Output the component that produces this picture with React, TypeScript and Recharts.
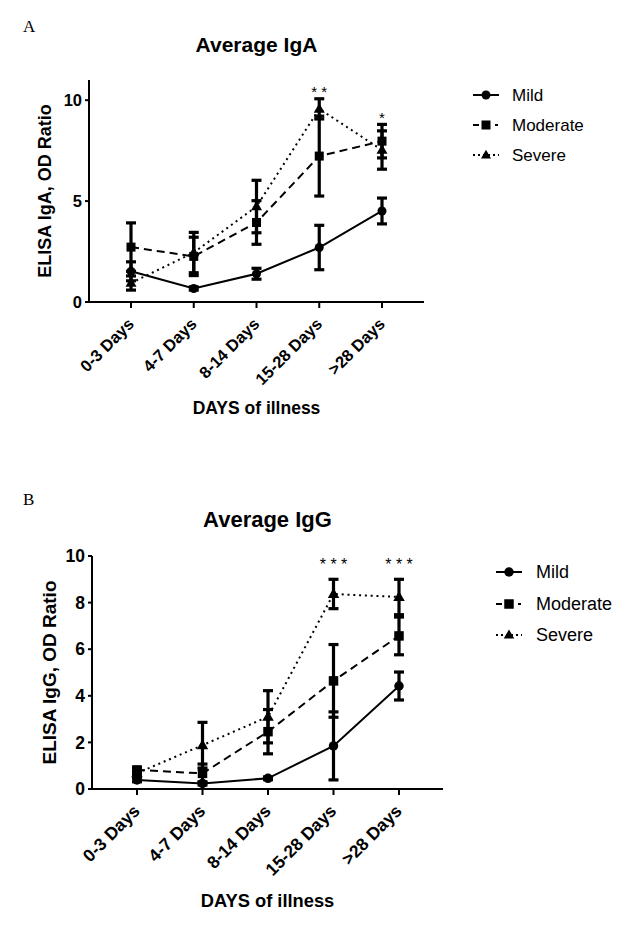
import React from 'react';
import { LineChart, Line, XAxis, YAxis, ErrorBar, Legend, LabelList } from 'recharts';

const categories = ['0-3 Days', '4-7 Days', '8-14 Days', '15-28 Days', '>28 Days'];

// Average IgA (panel A)
const igaMild = [1.52, 0.67, 1.4, 2.7, 4.51];
const igaMildErr = [0.47, 0.08, 0.27, 1.1, 0.64];
const igaModerate = [2.72, 2.26, 3.94, 7.23, 7.97];
const igaModerateErr = [1.2, 0.95, 1.08, 1.98, 0.83];
const igaSevere = [0.94, 2.45, 4.73, 9.57, 7.53];
const igaSevereErr = [0.35, 1.0, 1.3, 0.5, 0.95];
const igaSignificance = ['', '', '', '**', '*'];
const igaTicks = [0, 5, 10];

// Average IgG (panel B)
const iggMild = [0.39, 0.24, 0.46, 1.85, 4.42];
const iggMildErr = [0.08, 0.07, 0.06, 1.46, 0.6];
const iggModerate = [0.82, 0.67, 2.46, 4.64, 6.57];
const iggModerateErr = [0.1, 0.4, 0.95, 1.56, 0.81];
const iggSevere = [0.68, 1.88, 3.1, 8.37, 8.24];
const iggSevereErr = [0.08, 0.98, 1.12, 0.63, 0.76];
const iggSignificance = ['', '', '', '***', '***'];
const iggTicks = [0, 2, 4, 6, 8, 10];

const FONT = '"Liberation Sans", Arial, Helvetica, sans-serif';
const SERIF = '"Liberation Serif", "Times New Roman", serif';

type SeriesStyle = { dash?: string; legendDash?: string; marker: 'circle' | 'square' | 'triangle' };
const seriesStyles: Record<string, SeriesStyle> = {
  Mild: { dash: undefined, legendDash: undefined, marker: 'circle' },
  Moderate: { dash: '8 5', legendDash: '6 16 3 10', marker: 'square' },
  Severe: { dash: '2 3.8', legendDash: '2 3', marker: 'triangle' },
};

function buildRows(
  mild: number[], mildErr: number[], mod: number[], modErr: number[],
  sev: number[], sevErr: number[], sig: string[]
) {
  return categories.map((day, i) => ({
    day,
    Mild: mild[i],
    mildErr: mildErr[i],
    Moderate: mod[i],
    moderateErr: modErr[i],
    Severe: sev[i],
    severeErr: sevErr[i],
    sig: sig[i],
    sigTop: sig[i]
      ? Math.max(mild[i] + mildErr[i], mod[i] + modErr[i], sev[i] + sevErr[i])
      : null,
  }));
}

function drawMarker(kind: string, cx: number, cy: number, size: number, key?: any) {
  const h = size / 2;
  if (kind === 'circle') return <circle key={key} cx={cx} cy={cy} r={h} fill="#000" />;
  if (kind === 'square')
    return <rect key={key} x={cx - h} y={cy - h} width={size} height={size} fill="#000" />;
  const th = size * 0.95;
  return (
    <polygon
      key={key}
      points={`${cx},${cy - th * 0.6} ${cx + h + 0.5},${cy + th * 0.4} ${cx - h - 0.5},${cy + th * 0.4}`}
      fill="#000"
    />
  );
}

const makeDot = (kind: string, size: number) => (props: any) => {
  const { cx, cy, index } = props;
  if (cx == null || cy == null) return <g key={`e-${index}`} />;
  return drawMarker(kind, cx, cy, size, `d-${index}`);
};

type PanelCfg = {
  letter: string;
  title: string;
  yLabel: string;
  rows: any[];
  domain: [number, number];
  ticks: number[];
  height: number;
  top: number;
  margin: { top: number; right: number; bottom: number; left: number };
  padLeft: number;
  padRight: number;
  letterY: number;
  titleY: number;
  titleSize: number;
  yLabelX: number;
  yLabelSize: number;
  xLabelDy: number;
  xLabelSize: number;
  tickFont: number;
  markerSize: number;
  starSize: number;
  starOffset: number;
  legendLeft: number;
  legendTop: number;
  legendRowH: number;
  legendFont: number;
  legendGap: number;
};

const XTick = (fontSize: number) => (props: any) => {
  const { x, y, payload } = props;
  return (
    <g transform={`translate(${x + 4},${y + 15})`}>
      <text
        textAnchor="end"
        transform="rotate(-45)"
        fontSize={fontSize}
        fontWeight="bold"
        fontFamily={FONT}
        fill="#000"
      >
        {payload.value}
      </text>
    </g>
  );
};

const renderLegend = (cfg: PanelCfg) => (props: any) => {
  const items = (props.payload || []).filter((p: any) => p.type !== 'none' && seriesStyles[p.value]);
  return (
    <div style={{ margin: 0, padding: 0 }}>
      {items.map((item: any) => {
        const st = seriesStyles[item.value];
        return (
          <div
            key={item.value}
            style={{ display: 'flex', alignItems: 'center', height: cfg.legendRowH }}
          >
            <svg width={26} height={14} style={{ display: 'block' }}>
              <line
                x1={0}
                y1={7}
                x2={26}
                y2={7}
                stroke="#000"
                strokeWidth={2}
                strokeDasharray={st.legendDash}
              />
              {drawMarker(st.marker, 13, 7, cfg.markerSize)}
            </svg>
            <span
              style={{
                marginLeft: cfg.legendGap,
                fontSize: cfg.legendFont,
                fontFamily: FONT,
                color: '#000',
                lineHeight: 1,
              }}
            >
              {item.value}
            </span>
          </div>
        );
      })}
    </div>
  );
};

function Panel({ cfg }: { cfg: PanelCfg }) {
  const yAxisWidth = 40;
  const xAxisHeight = 100;
  const plotLeft = cfg.margin.left + yAxisWidth;
  const plotRight = 630 - cfg.margin.right;
  const plotCenter = (plotLeft + plotRight) / 2;
  return (
    <div style={{ position: 'absolute', left: 0, top: cfg.top, width: 630, height: cfg.height }}>
      <LineChart
        width={630}
        height={cfg.height}
        data={cfg.rows}
        margin={cfg.margin}
      >
        <text x={23} y={cfg.letterY} fontFamily={SERIF} fontSize={17} fill="#000">
          {cfg.letter}
        </text>
        <text
          x={plotCenter}
          y={cfg.titleY}
          textAnchor="middle"
          dominantBaseline="central"
          fontFamily={FONT}
          fontWeight="bold"
          fontSize={cfg.titleSize}
          fill="#000"
        >
          {cfg.title}
        </text>
        <XAxis
          dataKey="day"
          type="category"
          height={xAxisHeight}
          interval={0}
          padding={{ left: cfg.padLeft, right: cfg.padRight }}
          axisLine={{ stroke: '#000', strokeWidth: 2 }}
          tickLine={{ stroke: '#000', strokeWidth: 2 }}
          tickSize={6}
          tickMargin={2}
          tick={XTick(cfg.tickFont)}
          label={{
            content: (p: any) => {
              const vb = p.viewBox || {};
              return (
                <text
                  x={vb.x + vb.width / 2}
                  y={vb.y + cfg.xLabelDy}
                  textAnchor="middle"
                  dominantBaseline="central"
                  fontFamily={FONT}
                  fontWeight="bold"
                  fontSize={cfg.xLabelSize}
                  fill="#000"
                >
                  DAYS of illness
                </text>
              );
            },
          }}
        />
        <YAxis
          width={yAxisWidth}
          type="number"
          domain={cfg.domain}
          ticks={cfg.ticks}
          allowDataOverflow
          axisLine={{ stroke: '#000', strokeWidth: 2 }}
          tickLine={{ stroke: '#000', strokeWidth: 2 }}
          tickSize={4}
          tickMargin={3}
          tick={{ fontSize: cfg.tickFont, fontWeight: 'bold', fill: '#000', fontFamily: FONT }}
          label={{
            content: (p: any) => {
              const vb = p.viewBox || {};
              const cy = vb.y + vb.height / 2;
              return (
                <text
                  x={cfg.yLabelX}
                  y={cy}
                  transform={`rotate(-90, ${cfg.yLabelX}, ${cy})`}
                  textAnchor="middle"
                  dominantBaseline="central"
                  fontFamily={FONT}
                  fontWeight="bold"
                  fontSize={cfg.yLabelSize}
                  fill="#000"
                >
                  {cfg.yLabel}
                </text>
              );
            },
          }}
        />
        <Legend
          layout="horizontal"
          verticalAlign="middle"
          align="center"
          content={renderLegend(cfg)}
          wrapperStyle={{ left: cfg.legendLeft, top: cfg.legendTop, width: 150, height: 'auto' }}
        />
        <Line
          dataKey="Mild"
          name="Mild"
          stroke="#000"
          strokeWidth={2}
          dot={makeDot('circle', cfg.markerSize)}
          activeDot={false}
          isAnimationActive={false}
        >
          <ErrorBar dataKey="mildErr" direction="y" width={5} strokeWidth={3.2} stroke="#000" />
        </Line>
        <Line
          dataKey="Moderate"
          name="Moderate"
          stroke="#000"
          strokeWidth={2}
          strokeDasharray={seriesStyles.Moderate.dash}
          dot={makeDot('square', cfg.markerSize)}
          activeDot={false}
          isAnimationActive={false}
        >
          <ErrorBar dataKey="moderateErr" direction="y" width={5} strokeWidth={3.2} stroke="#000" />
        </Line>
        <Line
          dataKey="Severe"
          name="Severe"
          stroke="#000"
          strokeWidth={2}
          strokeDasharray={seriesStyles.Severe.dash}
          dot={makeDot('triangle', cfg.markerSize + 1)}
          activeDot={false}
          isAnimationActive={false}
        >
          <ErrorBar dataKey="severeErr" direction="y" width={5} strokeWidth={3.2} stroke="#000" />
        </Line>
        <Line
          dataKey="sigTop"
          stroke="none"
          dot={false}
          activeDot={false}
          legendType="none"
          isAnimationActive={false}
        >
          <LabelList
            dataKey="sig"
            content={(p: any) => {
              const { x, y, value, index } = p;
              if (!value || x == null || y == null) return null;
              return (
                <text
                  key={`s-${index}`}
                  x={x}
                  y={y - cfg.starOffset}
                  textAnchor="middle"
                  fontFamily={FONT}
                  fontSize={cfg.starSize}
                  fill="#000"
                >
                  {String(value).split('').join(' ')}
                </text>
              );
            }}
          />
        </Line>
      </LineChart>
    </div>
  );
}

const panelA: PanelCfg = {
  letter: 'A',
  title: 'Average IgA',
  yLabel: 'ELISA IgA, OD Ratio',
  rows: buildRows(igaMild, igaMildErr, igaModerate, igaModerateErr, igaSevere, igaSevereErr, igaSignificance),
  domain: [0, 11],
  ticks: igaTicks,
  height: 460,
  top: 0,
  margin: { top: 80, right: 206, bottom: 58, left: 49 },
  padLeft: 42,
  padRight: 42,
  letterY: 32,
  titleY: 44,
  titleSize: 21,
  yLabelX: 45,
  yLabelSize: 18,
  xLabelDy: 106,
  xLabelSize: 17.5,
  tickFont: 16.5,
  markerSize: 9,
  starSize: 15,
  starOffset: 1.5,
  legendLeft: 473,
  legendTop: 80,
  legendRowH: 30,
  legendFont: 17,
  legendGap: 13,
};

const panelB: PanelCfg = {
  letter: 'B',
  title: 'Average IgG',
  yLabel: 'ELISA IgG, OD Ratio',
  rows: buildRows(iggMild, iggMildErr, iggModerate, iggModerateErr, iggSevere, iggSevereErr, iggSignificance),
  domain: [0, 10],
  ticks: iggTicks,
  height: 468,
  top: 470,
  margin: { top: 86, right: 187, bottom: 49, left: 52 },
  padLeft: 45,
  padRight: 44,
  letterY: 35,
  titleY: 49,
  titleSize: 22,
  yLabelX: 49,
  yLabelSize: 19,
  xLabelDy: 111,
  xLabelSize: 18.3,
  tickFont: 17.5,
  markerSize: 9.5,
  starSize: 16,
  starOffset: 9,
  legendLeft: 496,
  legendTop: 86.5,
  legendRowH: 31.5,
  legendFont: 18,
  legendGap: 14,
};

export default function App() {
  return (
    <div
      style={{
        position: 'absolute',
        left: 0,
        top: 0,
        width: 630,
        height: 938,
        background: '#fff',
        overflow: 'hidden',
      }}
    >
      <Panel cfg={panelA} />
      <Panel cfg={panelB} />
    </div>
  );
}
